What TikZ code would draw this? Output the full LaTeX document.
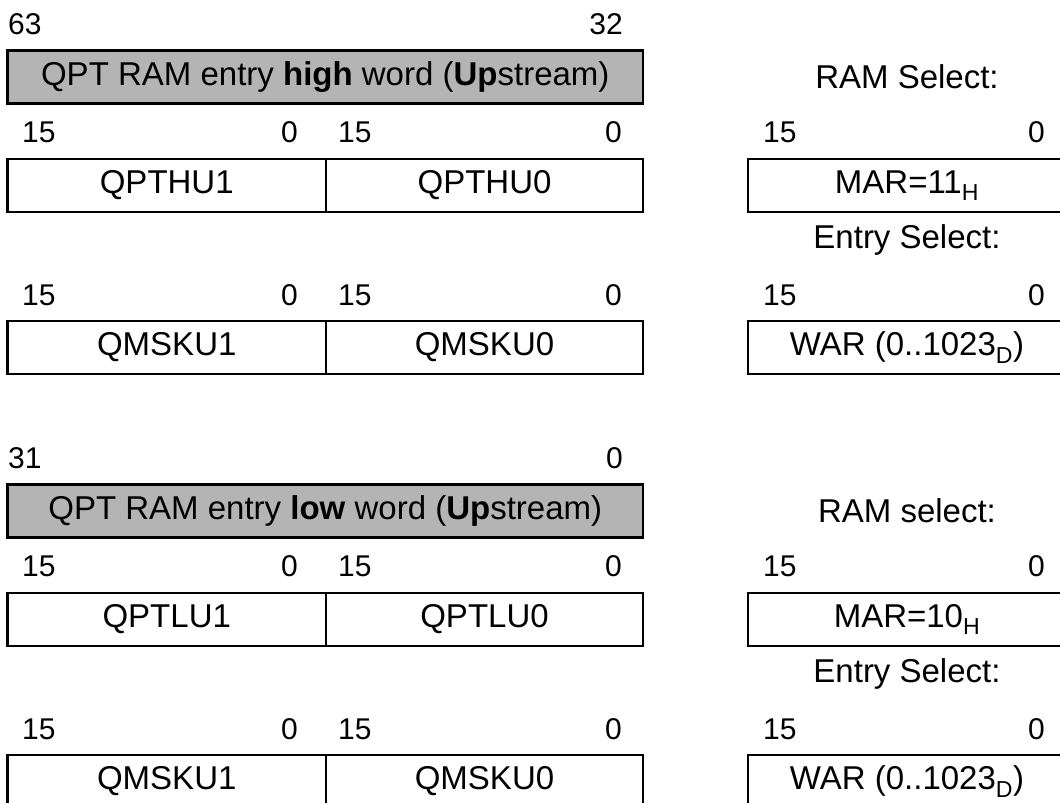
\documentclass[tikz,border=0pt]{standalone}
\usepackage{fontspec}
\setmainfont{Liberation Sans}
\definecolor{boxgray}{RGB}{180,180,180}
\tikzset{
  txt/.style={inner sep=0pt, font=\fontsize{33}{38}\selectfont},
  num/.style={inner sep=0pt, font=\fontsize{30}{35}\selectfont},
  regbox/.style={draw=black, line width=2.8pt, rectangle, inner sep=0pt, minimum height=53pt, font=\fontsize{33}{38}\selectfont},
  graybox/.style={regbox, fill=boxgray},
}
\begin{document}
\begin{tikzpicture}[x=1pt,y=-1pt]
\useasboundingbox (0,0) rectangle (1060,803);
\clip (0,0) rectangle (1060,803);
% ---------- upper section ----------
\node[num, anchor=west] (h63) at (8,24) {63};
\node[num, anchor=east] (h32) at (623,24) {32};
\node[graybox, minimum width=635.5pt] (hw) at (325.25,77) {QPT RAM entry \textbf{high} word (\textbf{Up}stream)};
\node[txt] (rs1) at (907,77) {RAM Select:};
\node[num, anchor=west] (a1) at (22,132) {15};
\node[num, anchor=east] (a2) at (298,132) {0};
\node[num, anchor=west] (a3) at (338,132) {15};
\node[num, anchor=east] (a4) at (622,132) {0};
\node[num, anchor=west] (a5) at (763,132) {15};
\node[num, anchor=east] (a6) at (1045,132) {0};
\node[regbox, minimum width=318.5pt] (thu1) at (166.75,185.5) {QPTHU1};
\node[regbox, minimum width=317pt] (thu0) at (484.5,185.5) {QPTHU0};
\node[regbox, minimum width=318pt] (mar1) at (907,185.5) {MAR=11\textsubscript{H}};
\node[txt] (es1) at (907,240) {Entry Select:};
\node[num, anchor=west] (b1) at (22,295) {15};
\node[num, anchor=east] (b2) at (298,295) {0};
\node[num, anchor=west] (b3) at (338,295) {15};
\node[num, anchor=east] (b4) at (622,295) {0};
\node[num, anchor=west] (b5) at (763,295) {15};
\node[num, anchor=east] (b6) at (1045,295) {0};
\node[regbox, minimum width=318.5pt] (mu1) at (166.75,347.5) {QMSKU1};
\node[regbox, minimum width=317pt] (mu0) at (484.5,347.5) {QMSKU0};
\node[regbox, minimum width=318pt] (war1) at (907,347.5) {WAR (0..1023\textsubscript{D})};
% ---------- lower section ----------
\node[num, anchor=west] (l31) at (8,458) {31};
\node[num, anchor=east] (l0) at (623,458) {0};
\node[graybox, minimum width=635.5pt] (lw) at (325.25,511) {QPT RAM entry \textbf{low} word (\textbf{Up}stream)};
\node[txt] (rs2) at (907,511) {RAM select:};
\node[num, anchor=west] (c1) at (22,566) {15};
\node[num, anchor=east] (c2) at (298,566) {0};
\node[num, anchor=west] (c3) at (338,566) {15};
\node[num, anchor=east] (c4) at (622,566) {0};
\node[num, anchor=west] (c5) at (763,566) {15};
\node[num, anchor=east] (c6) at (1045,566) {0};
\node[regbox, minimum width=318.5pt] (tlu1) at (166.75,619.5) {QPTLU1};
\node[regbox, minimum width=317pt] (tlu0) at (484.5,619.5) {QPTLU0};
\node[regbox, minimum width=318pt] (mar2) at (907,619.5) {MAR=10\textsubscript{H}};
\node[txt] (es2) at (907,674) {Entry Select:};
\node[num, anchor=west] (d1) at (22,729) {15};
\node[num, anchor=east] (d2) at (298,729) {0};
\node[num, anchor=west] (d3) at (338,729) {15};
\node[num, anchor=east] (d4) at (622,729) {0};
\node[num, anchor=west] (d5) at (763,729) {15};
\node[num, anchor=east] (d6) at (1045,729) {0};
\node[regbox, minimum width=318.5pt] (ml1) at (166.75,781.5) {QMSKU1};
\node[regbox, minimum width=317pt] (ml0) at (484.5,781.5) {QMSKU0};
\node[regbox, minimum width=318pt] (war2) at (907,781.5) {WAR (0..1023\textsubscript{D})};
\end{tikzpicture}
\end{document}
